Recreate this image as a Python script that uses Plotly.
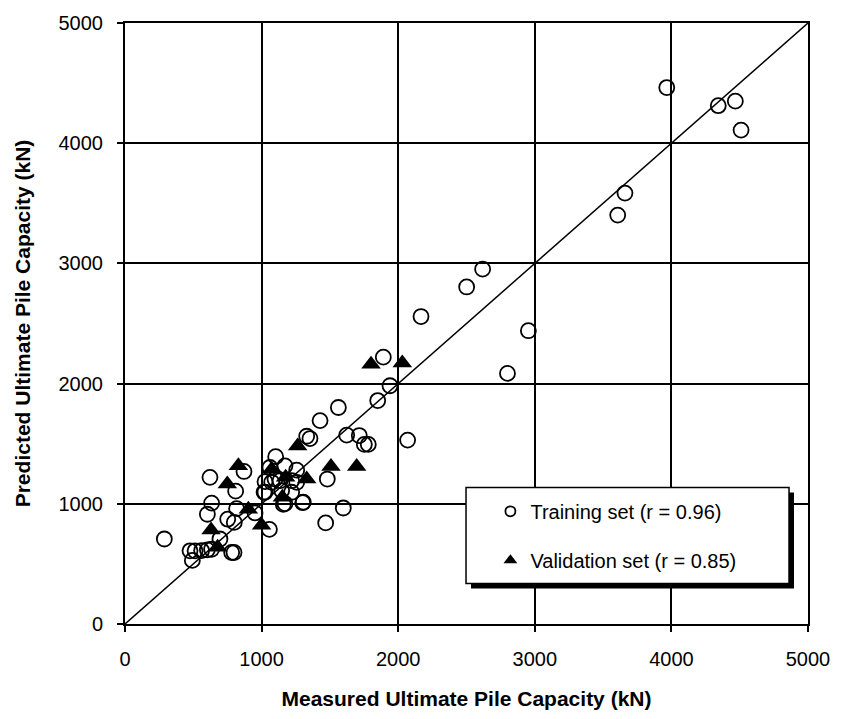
import plotly.graph_objects as go

# Training set: measured vs predicted ultimate pile capacity (kN)
train_measured = [
    3966, 4343, 4468, 4510, 3660, 3607, 2618, 2501, 2953, 2167, 2800,
    1891, 1940, 1850, 1562, 1428, 1330, 1354, 1623, 1715, 1752, 1781, 2069,
    1481, 1305, 1598, 1469,
    1103, 871, 622, 810, 1061, 1171, 1257, 1098, 1025, 1074, 1135, 1220, 1257,
    1025, 1147, 1171, 1220, 1301, 1159, 634, 603, 817, 752, 800, 952, 1057,
    288, 695, 476, 513, 561, 603, 634, 781, 798, 493, 1018,
]
train_predicted = [
    4463, 4312, 4350, 4109, 3585, 3402, 2952, 2804, 2440, 2558, 2085,
    2220, 1982, 1859, 1801, 1692, 1562, 1543, 1571, 1568, 1494, 1494, 1530,
    1206, 1014, 965, 841,
    1392, 1269, 1220, 1105, 1302, 1316, 1280, 1206, 1184, 1179, 1192, 1192, 1179,
    1096, 1110, 1001, 1096, 1009, 995, 1006, 913, 960, 872, 845, 924, 787,
    707, 707, 609, 609, 611, 617, 622, 595, 595, 529, 1096,
]

# Validation set
valid_measured = [1801, 2030, 1264, 830, 749, 1074, 1176, 1330, 1152, 903, 1000, 630, 678, 1508, 1696]
valid_predicted = [2160, 2171, 1480, 1316, 1165, 1288, 1220, 1206, 1055, 954, 822, 781, 639, 1310, 1310]

# Line of equality
equality = [0, 5000]
tick_vals = [0, 1000, 2000, 3000, 4000, 5000]

FONT = "Liberation Sans, Arial, sans-serif"

fig = go.Figure()

fig.add_trace(go.Scatter(
    x=equality, y=equality, mode="lines",
    line=dict(color="black", width=1.5), showlegend=False, hoverinfo="skip",
))
fig.add_trace(go.Scatter(
    x=train_measured, y=train_predicted, mode="markers", showlegend=False,
    marker=dict(symbol="circle-open", size=15, color="black", line=dict(width=1.8)),
))
fig.add_trace(go.Scatter(
    x=valid_measured, y=valid_predicted, mode="markers", showlegend=False,
    marker=dict(symbol="triangle-up", size=17, color="black", line=dict(width=0)),
))

# Legend entries with small symbols
fig.add_trace(go.Scatter(
    x=[None], y=[None], mode="markers", name="Training set (r = 0.96)",
    legendgroup="train",
    marker=dict(symbol="circle-open", size=10, color="black", line=dict(width=1.8)),
))
fig.add_trace(go.Scatter(
    x=[None], y=[None], mode="markers", name="Validation set (r = 0.85)",
    legendgroup="valid",
    marker=dict(symbol="triangle-up", size=12, color="black"),
))

# Legend frame with drop shadow
fig.add_shape(type="rect", xref="paper", yref="paper",
              x0=0.5066, x1=0.9795, y0=0.059, y1=0.219,
              fillcolor="black", line=dict(width=0), layer="above")
fig.add_shape(type="rect", xref="paper", yref="paper",
              x0=0.4993, x1=0.9722, y0=0.0674, y1=0.227,
              fillcolor="white", line=dict(color="black", width=1.5), layer="above")

axis_common = dict(
    range=[0, 5000], tickvals=tick_vals, showgrid=True,
    gridcolor="black", gridwidth=2, showline=True, linecolor="black",
    linewidth=2, mirror=True, ticks="outside", ticklen=6, tickwidth=1.5,
    tickcolor="black", zeroline=False, ticklabelstandoff=10,
    tickfont=dict(family=FONT, size=20, color="black"),
)

fig.update_layout(
    width=843, height=719,
    margin=dict(l=125, r=35, t=17, b=94),
    plot_bgcolor="white", paper_bgcolor="white",
    showlegend=True,
    legend=dict(
        x=0.535, y=0.22, xanchor="left", yanchor="top",
        bgcolor="rgba(0,0,0,0)", borderwidth=0,
        font=dict(family=FONT, size=20, color="black"),
        itemwidth=30, tracegroupgap=20,
    ),
    xaxis=dict(
        **axis_common,
        title=dict(text="<b>Measured Ultimate Pile Capacity (kN)</b>",
                   font=dict(family=FONT, size=21, color="black"), standoff=22),
    ),
    yaxis=dict(
        **axis_common,
        title=dict(text="<b>Predicted Ultimate Pile Capacity (kN)</b>",
                   font=dict(family=FONT, size=21, color="black"), standoff=22),
    ),
)

fig.write_html("out.html")
